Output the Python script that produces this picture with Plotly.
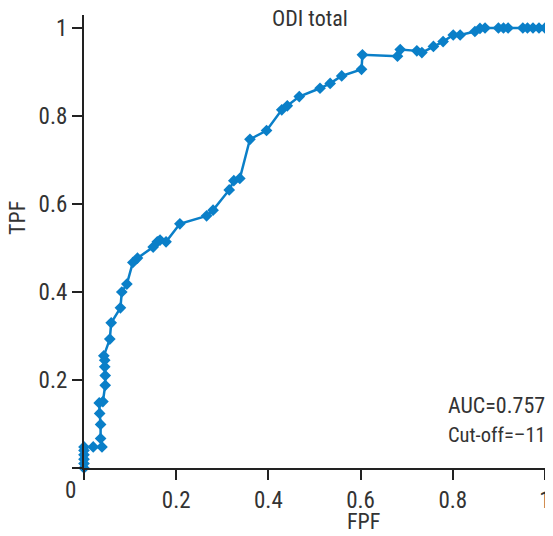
import plotly.graph_objects as go

# ROC curve data
fpf = [0, 0, 0, 0, 0, 0, 0.020, 0.039, 0.036, 0.036, 0.034, 0.033, 0.041, 0.046, 0.046,
       0.045, 0.045, 0.043, 0.056, 0.059, 0.079, 0.082, 0.093, 0.106, 0.116, 0.150,
       0.159, 0.165, 0.178, 0.208, 0.266, 0.280, 0.315, 0.325, 0.338, 0.360, 0.396,
       0.429, 0.441, 0.467, 0.512, 0.534, 0.559, 0.602, 0.604, 0.680, 0.686, 0.722,
       0.733, 0.758, 0.779, 0.801, 0.816, 0.848, 0.859, 0.870, 0.899, 0.910, 0.920,
       0.952, 0.962, 0.974, 0.987, 1.0]
tpf = [0, 0.010, 0.020, 0.030, 0.040, 0.048, 0.048, 0.048, 0.067, 0.099, 0.124, 0.148,
       0.151, 0.188, 0.210, 0.230, 0.245, 0.255, 0.293, 0.330, 0.364, 0.400, 0.418,
       0.467, 0.477, 0.502, 0.514, 0.518, 0.514, 0.555, 0.573, 0.586, 0.632, 0.653,
       0.658, 0.747, 0.767, 0.814, 0.823, 0.844, 0.863, 0.874, 0.891, 0.906, 0.939,
       0.936, 0.951, 0.948, 0.944, 0.958, 0.969, 0.984, 0.984, 0.992, 0.999, 1.0,
       1.0, 1.0, 1.0, 1.0, 1.0, 1.0, 1.0, 1.0]

x_ticks = [0, 0.2, 0.4, 0.6, 0.8, 1]
x_tick_labels = ["", "0.2", "0.4", "0.6", "0.8", "1"]
y_ticks = [0, 0.2, 0.4, 0.6, 0.8, 1]
y_tick_labels = ["", "0.2", "0.4", "0.6", "0.8", "1"]

title_text = "ODI total"
auc_text = "AUC=0.757"
cutoff_text = "Cut-off=\u201311"

FONT = "Liberation Sans Narrow, Roboto Condensed, Arial Narrow, Roboto, sans-serif"
TXT = "#333333"
BLUE = "#0a7fc8"

fig = go.Figure()
fig.add_trace(go.Scatter(
    x=fpf, y=tpf, mode="lines+markers",
    line=dict(color=BLUE, width=2.5),
    marker=dict(symbol="diamond", size=9, color=BLUE),
    showlegend=False, cliponaxis=False,
))

axis_common = dict(
    showgrid=False, zeroline=False, showline=True, linecolor="#222222", linewidth=2,
    ticks="outside", ticklen=10, tickwidth=2, tickcolor="#222222", automargin=False,
    tickfont=dict(family=FONT, size=23, color=TXT),
)
fig.update_xaxes(range=[0, 1.0174], tickvals=x_ticks, ticktext=x_tick_labels, **axis_common)
fig.update_yaxes(range=[0, 1.0295], tickvals=y_ticks, ticktext=y_tick_labels, **axis_common)

ann_font = dict(family=FONT, size=22, color=TXT)
# the page body adds an 8px offset, so the figure is 8px smaller on each side
fig.update_layout(
    width=545, height=528,
    margin=dict(l=76, r=0, t=7, b=68, autoexpand=False),
    plot_bgcolor="white", paper_bgcolor="white",
    annotations=[
        dict(text=title_text, xref="paper", yref="paper", x=0.482, y=0.993,
             xanchor="center", yanchor="middle", showarrow=False, font=ann_font),
        dict(text=auc_text, xref="paper", yref="paper", x=0.772, y=0.139,
             xanchor="left", yanchor="middle", showarrow=False, font=ann_font),
        dict(text=cutoff_text, xref="paper", yref="paper", x=0.772, y=0.073,
             xanchor="left", yanchor="middle", showarrow=False,
             font=dict(family=FONT, size=20.5, color=TXT)),
        dict(text="0", xref="paper", yref="paper", x=-0.0288, y=-0.0486,
             xanchor="center", yanchor="middle", showarrow=False,
             font=dict(family=FONT, size=23, color=TXT)),
        dict(text="TPF", xref="paper", yref="paper", x=-0.1407, y=0.552,
             xanchor="center", yanchor="middle", showarrow=False, textangle=-90,
             font=ann_font),
        dict(text="FPF", xref="paper", yref="paper", x=0.597, y=-0.119,
             xanchor="center", yanchor="middle", showarrow=False, font=ann_font),
    ],
)

fig.write_html("out.html")
